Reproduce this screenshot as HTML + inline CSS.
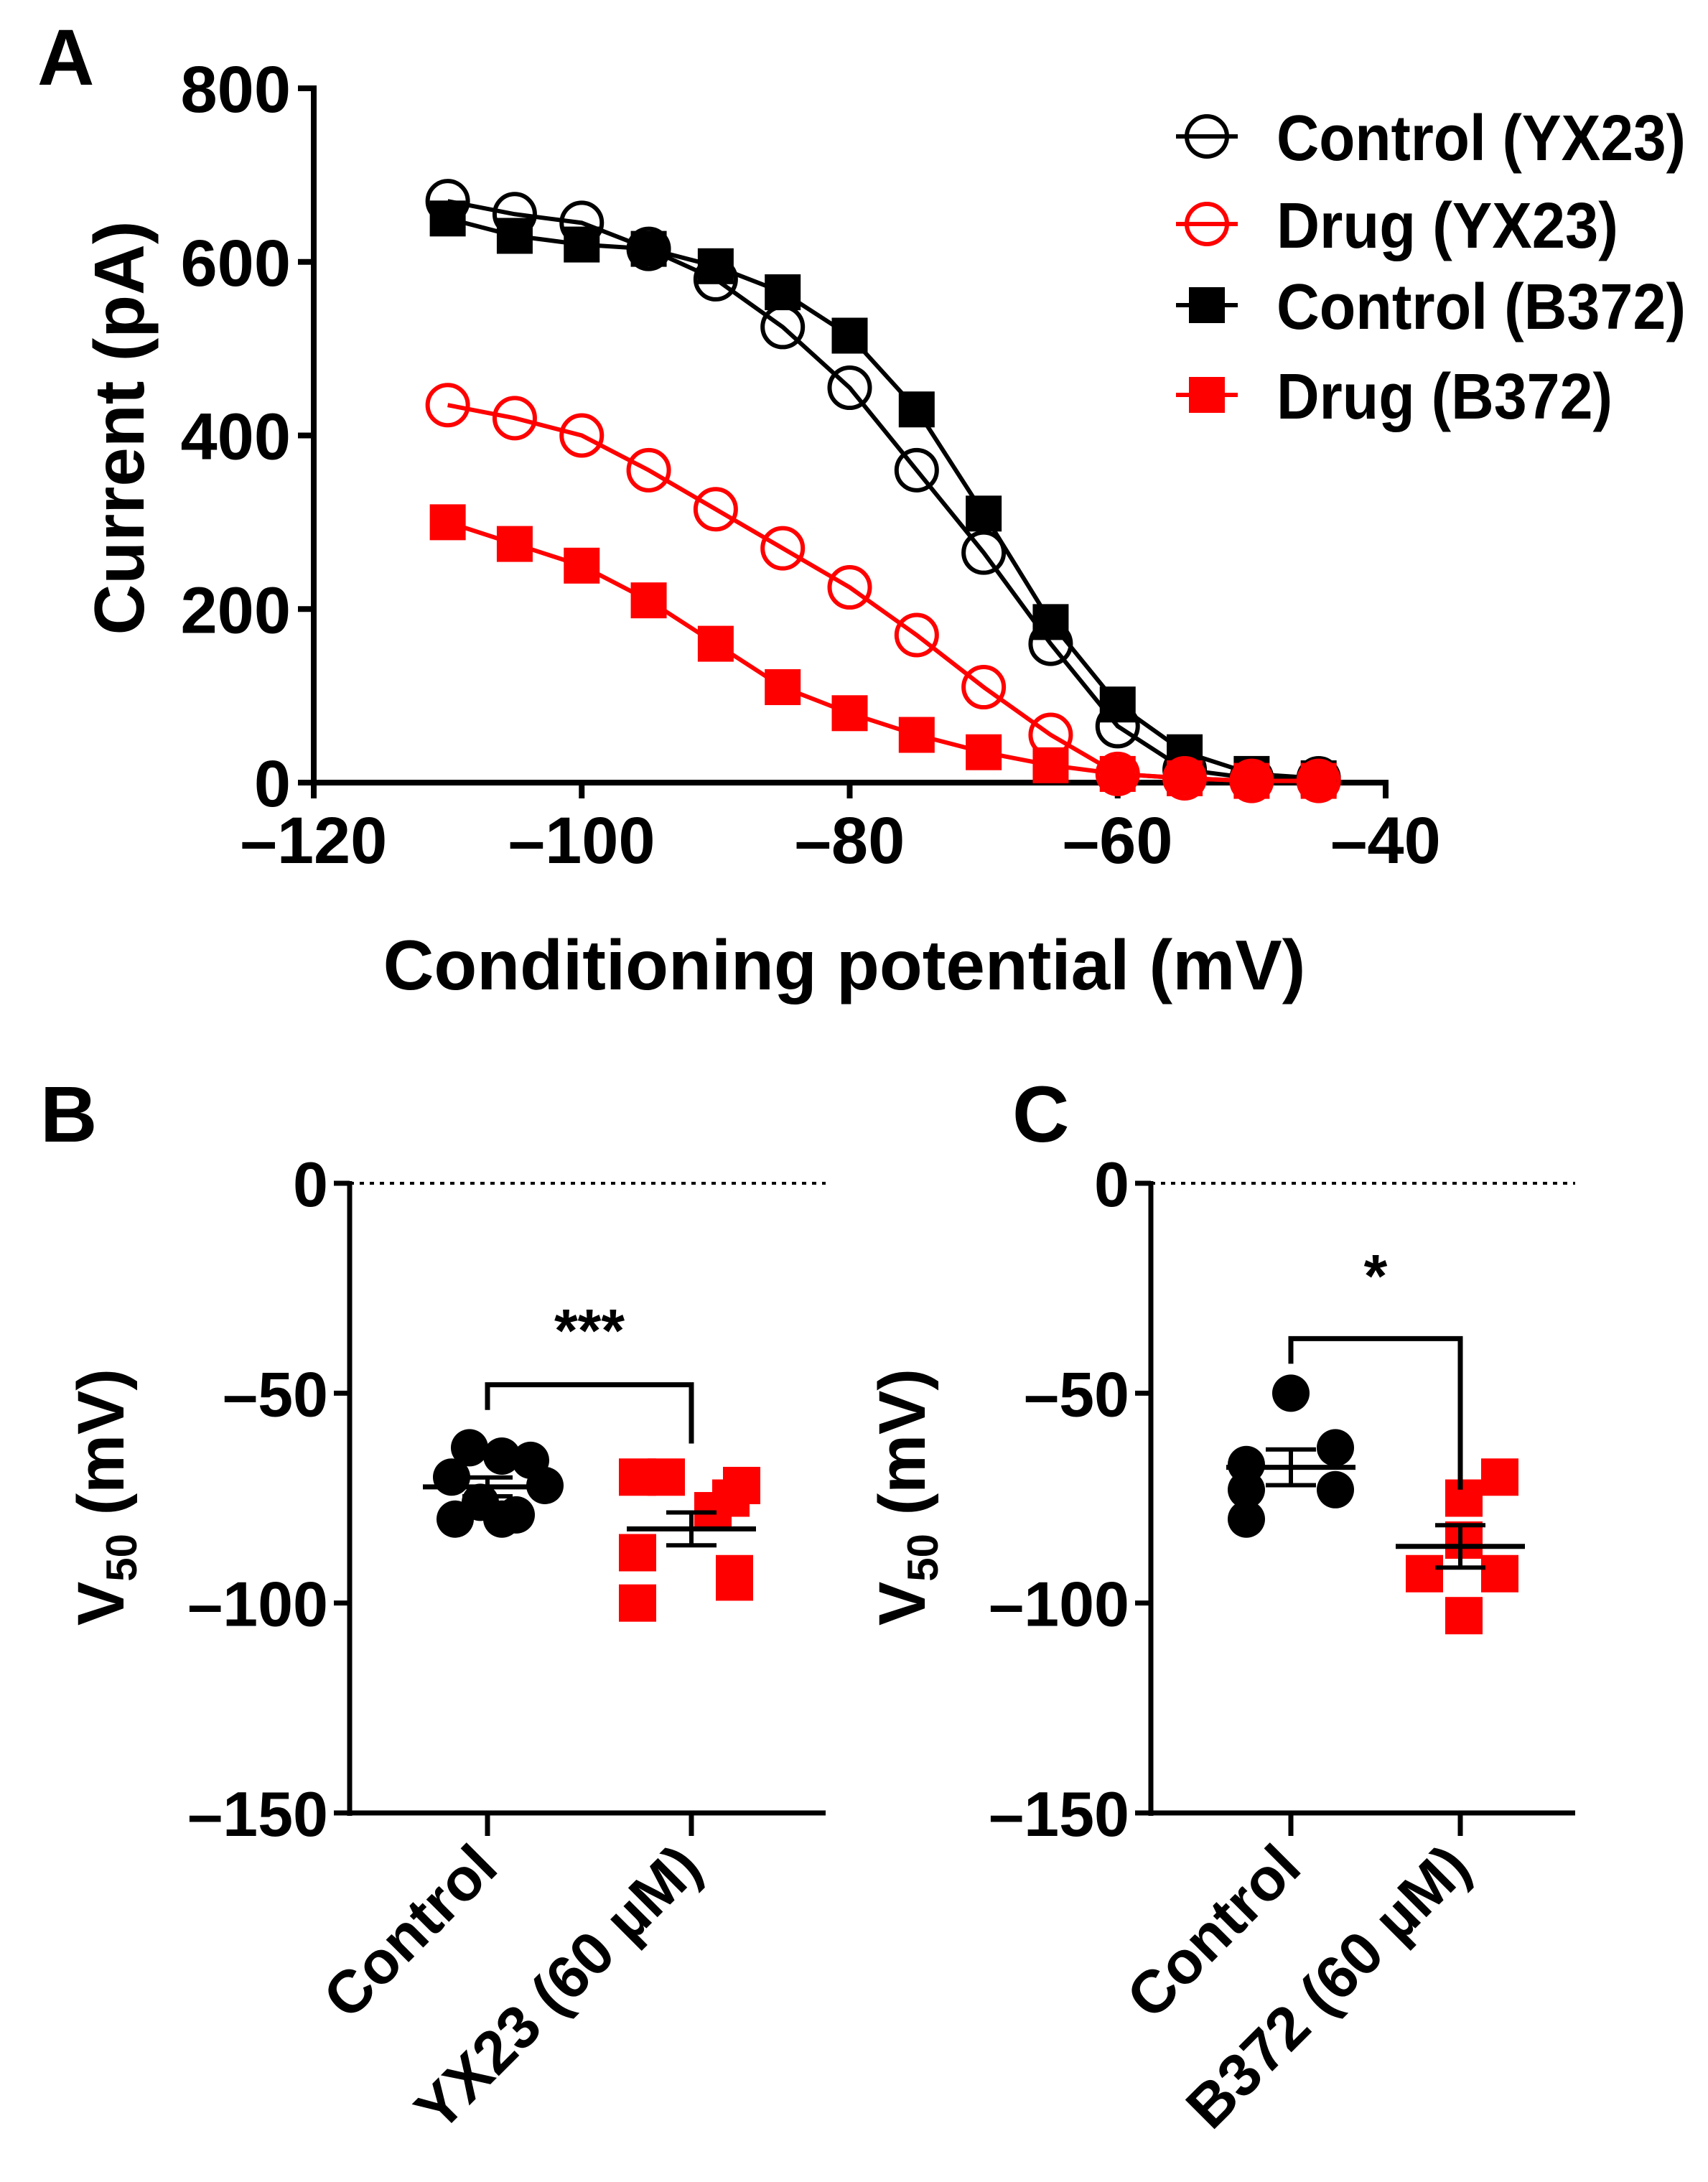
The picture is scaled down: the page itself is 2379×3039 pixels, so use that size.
<!DOCTYPE html>
<html><head><meta charset="utf-8"><style>
html,body{margin:0;padding:0;background:#fff;}
svg{display:block;font-family:"Liberation Sans",Arial,sans-serif;font-weight:bold;}
</style></head><body>
<svg id="fig" width="2379" height="3039" viewBox="0 0 2379 3039">
<g id="pa"></g>
<g id="pb"></g>
<g id="pc"></g>
</svg>
<script>
const voltages = [-110,-105,-100,-95,-90,-85,-80,-75,-70,-65,-60,-55,-50,-45];
const ctrlYX23 = [670,655,645,615,580,525,455,360,265,160,65,15,5,5];
const drugYX23 = [435,420,400,360,315,270,225,170,110,55,10,5,2,2];
const ctrlB372 = [650,630,620,615,595,565,515,430,310,185,90,35,10,5];
const drugB372 = [300,275,250,210,160,110,80,55,35,20,10,5,2,2];
const xTicksA = [-120,-100,-80,-60,-40];
const yTicksA = [0,200,400,600,800];
const bCtrl = [-63,-65,-66,-70,-72,-76,-79,-80,-80];
const bDrug = [-70,-70,-72,-75,-78,-88,-93,-95,-100];
const cCtrl = [-50,-63,-67,-73,-73,-80];
const cDrug = [-70,-75,-85,-93,-93,-103];
const yTicksBC = [0,-50,-100,-150];
const catsB = ["Control","YX23 (60 µM)"];
const catsC = ["Control","B372 (60 µM)"];

const NS="http://www.w3.org/2000/svg";
function mk(parent,tag,attrs,text){const e=document.createElementNS(NS,tag);for(const k in attrs)e.setAttribute(k,attrs[k]);if(text!==undefined)e.textContent=text;parent.appendChild(e);return e;}

// Panel A
const pa=document.getElementById('pa');
const ax0=437, ax1=1930, ay0=1090, ay1=123;
const xA=v=>ax0+(v+120)/80*(ax1-ax0);
const yA=v=>ay0+(v/800)*(ay1-ay0);
let t=mk(pa,'text',{x:52,y:118,'font-size':110},'A');

let l=mk(pa,'line',{x1:ax0,y1:ay1-4,x2:ax0,y2:ay0+4,stroke:'#000','stroke-width':8});

l=mk(pa,'line',{x1:ax0-4,y1:ay0,x2:ax1+4,y2:ay0,stroke:'#000','stroke-width':8});

yTicksA.forEach(v=>{
  mk(pa,'line',{x1:ax0-22,y1:yA(v),x2:ax0,y2:yA(v),stroke:'#000','stroke-width':8});
  const e=mk(pa,'text',{x:ax0-32,y:yA(v)+33,'font-size':92,'text-anchor':'end'},v);
  
});
xTicksA.forEach(v=>{
  mk(pa,'line',{x1:xA(v),y1:ay0,x2:xA(v),y2:ay0+22,stroke:'#000','stroke-width':8});
  const e=mk(pa,'text',{x:xA(v),y:ay0+112,'font-size':92,'text-anchor':'middle'},'\u2013'+Math.abs(v));
  
});
t=mk(pa,'text',{x:0,y:0,'font-size':98,'text-anchor':'middle',transform:'translate(200,596) rotate(-90)'},'Current (pA)');

t=mk(pa,'text',{x:1176,y:1378,'font-size':98,'text-anchor':'middle'},'Conditioning potential (mV)');


function drawMarker(g,x,y,kind,color){
  if(kind==='circle') return mk(g,'circle',{cx:x,cy:y,r:28,fill:'none',stroke:color,'stroke-width':6});
  return mk(g,'rect',{x:x-25,y:y-25,width:50,height:50,fill:color});
}
const seriesA=[[ctrlYX23,'circle','#000','series-control-yx23'],[ctrlB372,'square','#000','series-control-b372'],[drugYX23,'circle','#ff0000','series-drug-yx23'],[drugB372,'square','#ff0000','series-drug-b372']];
seriesA.forEach(([vals,kind,color,name])=>{
  const g=mk(pa,'g',{});
  
  const pts=vals.map((v,i)=>xA(voltages[i])+','+yA(v)).join(' ');
  mk(g,'polyline',{points:pts,fill:'none',stroke:color,'stroke-width':6});
  vals.forEach((v,i)=>{const m=drawMarker(g,xA(voltages[i]),yA(v),kind,color);
    });
});
const leg=[['Control (YX23)','circle','#000',570],['Drug (YX23)','circle','#ff0000',476],['Control (B372)','square','#000',570],['Drug (B372)','square','#ff0000',468]];
const legY=[190,312,425,550];
leg.forEach(([lab,kind,color,w],i)=>{
  const g=mk(pa,'g',{});
  
  mk(g,'line',{x1:1638,y1:legY[i],x2:1724,y2:legY[i],stroke:color,'stroke-width':6});
  drawMarker(g,1681,legY[i],kind,color);
  mk(g,'text',{x:1778,y:legY[i]+33,'font-size':90,textLength:w,lengthAdjust:'spacingAndGlyphs'},lab);
});

// Panels B, C
function dotPanel(g,opt){
  const {axX,xEnd,c1,c2,ctrl,drug,cats,letter,letterX,bracketY,b1,b2,star,starY,offsC,offsD}=opt;
  const y0=1648,y150=2525;
  const yS=v=>y0+(-v/150)*(y150-y0);
  let e=mk(g,'text',{x:letterX,y:1590,'font-size':110},letter);
  
  mk(g,'line',{x1:axX,y1:y0,x2:xEnd,y2:y0,stroke:'#000','stroke-width':4,'stroke-dasharray':'6,8'});
  e=mk(g,'line',{x1:axX,y1:y0-3,x2:axX,y2:y150+4,stroke:'#000','stroke-width':7});
  
  e=mk(g,'line',{x1:axX-3,y1:y150,x2:xEnd,y2:y150,stroke:'#000','stroke-width':7});
  
  yTicksBC.forEach(v=>{
    mk(g,'line',{x1:axX-22,y1:yS(v),x2:axX,y2:yS(v),stroke:'#000','stroke-width':7});
    const tt=mk(g,'text',{x:axX-30,y:yS(v)+32,'font-size':88,'text-anchor':'end'},v===0?'0':'\u2013'+Math.abs(v));
    
  });
  const yt=mk(g,'text',{x:0,y:0,'font-size':92,'text-anchor':'middle',transform:`translate(${axX-315},2085) rotate(-90)`});
  
  yt.innerHTML='V<tspan font-size="60" dy="18">50</tspan><tspan dy="-18"> (mV)</tspan>';
  [c1,c2].forEach((cx,i)=>{
    mk(g,'line',{x1:cx,y1:y150,x2:cx,y2:y150+32,stroke:'#000','stroke-width':7});
    const tt=mk(g,'text',{x:0,y:0,'font-size':84,'text-anchor':'end',transform:`translate(${cx+18},${y150+80}) rotate(-45)`},cats[i]);
    
  });
  ctrl.forEach((v,i)=>{const c=mk(g,'circle',{cx:c1+offsC[i],cy:yS(v),r:26,fill:'#000'});
    });
  drug.forEach((v,i)=>{const r=mk(g,'rect',{x:c2+offsD[i]-26,y:yS(v)-26,width:52,height:52,fill:'#ff0000'});
    });
  function stats(a){const m=a.reduce((s,x)=>s+x,0)/a.length;const sd=Math.sqrt(a.reduce((s,x)=>s+(x-m)**2,0)/(a.length-1));return [m,sd/Math.sqrt(a.length)];}
  [[ctrl,c1,'#000'],[drug,c2,'#000']].forEach(([a,cx,col])=>{
    const [m,se]=stats(a);
    const eg=mk(g,'g',{});
    
    mk(eg,'line',{x1:cx-90,y1:yS(m),x2:cx+90,y2:yS(m),stroke:col,'stroke-width':7});
    mk(eg,'line',{x1:cx,y1:yS(m+se),x2:cx,y2:yS(m-se),stroke:col,'stroke-width':6});
    mk(eg,'line',{x1:cx-35,y1:yS(m+se),x2:cx+35,y2:yS(m+se),stroke:col,'stroke-width':6});
    mk(eg,'line',{x1:cx-35,y1:yS(m-se),x2:cx+35,y2:yS(m-se),stroke:col,'stroke-width':6});
  });
  const br=mk(g,'polyline',{points:`${c1},${yS(b1)} ${c1},${yS(bracketY)} ${c2},${yS(bracketY)} ${c2},${yS(b2)}`,fill:'none',stroke:'#000','stroke-width':7});
  
  const st=mk(g,'text',{x:(c1+c2)/2,y:yS(starY),'font-size':84,'text-anchor':'middle'},star);
  
}
dotPanel(document.getElementById('pb'),{axX:487,xEnd:1150,c1:679,c2:963,ctrl:bCtrl,drug:bDrug,cats:catsB,letter:'B',letterX:56,bracketY:-48,b1:-54,b2:-62,star:'***',starY:-40,
  offsC:[-25,20,60,-50,80,-10,40,-45,20],offsD:[-75,-35,70,55,30,-75,60,60,-75]});
dotPanel(document.getElementById('pc'),{axX:1603,xEnd:2194,c1:1798,c2:2034,ctrl:cCtrl,drug:cDrug,cats:catsC,letter:'C',letterX:1410,bracketY:-37,b1:-43,b2:-73,star:'*',starY:-27,
  offsC:[0,62,-62,-62,62,-62],offsD:[55,5,5,-50,55,5]});
</script>
</body></html>
